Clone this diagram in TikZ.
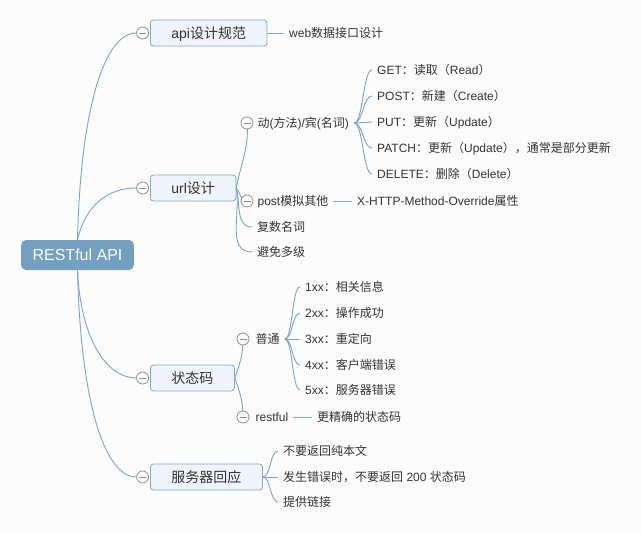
\documentclass[tikz,border=0pt]{standalone}
\usepackage{fontspec}
\setmainfont{Liberation Sans}
\newfontfamily\cjk{Noto Sans CJK SC}
\usepackage{tikz}
\usetikzlibrary{positioning}
\newcommand{\zh}[1]{{\cjk #1}}
\definecolor{linkblue}{HTML}{7BA4C7}
\definecolor{rootblue}{HTML}{73A0C1}
\definecolor{topicfill}{HTML}{EEF4F9}
\definecolor{topicborder}{HTML}{7FA8CB}
\definecolor{foldgray}{HTML}{8E8E8E}
\definecolor{inkgray}{HTML}{333333}
\definecolor{paper}{HTML}{FCFCFC}
\pgfdeclarelayer{bg}
\pgfsetlayers{bg,main}

\begin{document}
\begin{tikzpicture}[
x=1pt, y=-1pt,
central/.style={rectangle, rounded corners=5pt, fill=rootblue, text=white, font=\fontsize{16}{18}\selectfont, inner xsep=11.5pt, minimum height=30pt, text height=13.5pt, text depth=2.5pt},
topic/.style={rectangle, rounded corners=3pt, draw=topicborder, fill=topicfill, line width=0.8pt, text=inkgray, font=\fontsize{14}{16}\selectfont, inner xsep=21pt, minimum height=26pt, text height=12pt, text depth=2pt, anchor=west},
leaf/.style={anchor=west, inner xsep=5pt, inner ysep=1pt, text=inkgray, font=\fontsize{12}{14}\selectfont, text height=10.5pt, text depth=1.5pt},
foldmark/.style={circle, draw=foldgray, fill=white, line width=0.8pt, minimum size=12pt, inner sep=0pt,
  path picture={\draw[foldgray, line width=0.8pt] ([xshift=-3.5pt]path picture bounding box.center) -- ([xshift=3.5pt]path picture bounding box.center);}},
link/.style={draw=linkblue, line width=0.9pt}
]

\node[central] (root) at (77.5,255) {RESTful API};

%first level
\node[topic] (api) at (150,33) {api\zh{设计规范}};
\node[topic] (url) at (150,188) {url\zh{设计}};
\node[topic] (code) at (150,378) {\zh{状态码}};
\node[topic] (reply) at (150,477) {\zh{服务器回应}};
\node[foldmark] (f_api) [left=1pt of api] {};
\node[foldmark] (f_url) [left=1pt of url] {};
\node[foldmark] (f_code) [left=1pt of code] {};
\node[foldmark] (f_reply) [left=1pt of reply] {};

%api
\node[leaf] (web) at (284,33) {web\zh{数据接口设计}};

%url
\node[foldmark] (f_verb) at (247,123) {};
\node[leaf] (verb) [right=-1pt of f_verb] {\zh{动}(\zh{方法})/\zh{宾}(\zh{名词})};
\node[leaf] (get) at (372,70) {GET\zh{：读取（}Read\zh{）}};
\node[leaf] (create) at (372,96) {POST\zh{：新建（}Create\zh{）}};
\node[leaf] (put) at (372,122) {PUT\zh{：更新（}Update\zh{）}};
\node[leaf] (patch) at (372,148) {PATCH\zh{：更新（}Update\zh{），通常是部分更新}};
\node[leaf] (del) at (372,174) {DELETE\zh{：删除（}Delete\zh{）}};
\node[foldmark] (f_sim) at (247,201) {};
\node[leaf] (simpost) [right=-1pt of f_sim] {post\zh{模拟其他}};
\node[leaf] (xhttp) at (352,201) {X-HTTP-Method-Override\zh{属性}};
\node[leaf] (plural) at (252,227) {\zh{复数名词}};
\node[leaf] (nested) at (252,252) {\zh{避免多级}};

%status codes
\node[foldmark] (f_normal) at (243,339) {};
\node[leaf] (normal) [right=1pt of f_normal] {\zh{普通}};
\node[leaf] (s1) at (300,287) {1xx\zh{：相关信息}};
\node[leaf] (s2) at (300,313) {2xx\zh{：操作成功}};
\node[leaf] (s3) at (300,339) {3xx\zh{：重定向}};
\node[leaf] (s4) at (300,365) {4xx\zh{：客户端错误}};
\node[leaf] (s5) at (300,390) {5xx\zh{：服务器错误}};
\node[foldmark] (f_rest) at (243,417) {};
\node[leaf] (restful) [right=1pt of f_rest] {restful};
\node[leaf] (precise) at (312,417) {\zh{更精确的状态码}};

%server reply
\node[leaf] (plain) at (278,451) {\zh{不要返回纯本文}};
\node[leaf] (err) at (278,477) {\zh{发生错误时，不要返回} 200 \zh{状态码}};
\node[leaf] (links) at (278,502) {\zh{提供链接}};

\begin{pgfonlayer}{bg}
\fill[paper] (0,0) rectangle (641,533);

%Connections root
\draw[link] (root.north) .. controls +(3,-130) and +(-32,0) .. (f_api.west);
\draw[link] (root.north) .. controls +(8,-35) and +(-28,0) .. (f_url.west);
\draw[link] (root.south) .. controls +(3,68) and +(-30,0) .. (f_code.west);
\draw[link] (root.south) .. controls +(3,130) and +(-32,0) .. (f_reply.west);

%Connections api
\draw[link] (api.east) -- (web.west);

%Connections url
\draw[link] (url.east) to[out=80, in=-85] (f_verb.center);
\draw[link] (url.east) to[out=-50, in=180] (f_sim.center);
\draw[link] (url.east) to[out=-75, in=180] (plural.west);
\draw[link] (url.east) to[out=-80, in=180] (nested.west);
\foreach \m in {get,create,put,patch,del}
  \draw[link] (verb.east) .. controls +(9,0) and +(-9,0) .. (\m.west);
\draw[link] (simpost.east) -- (xhttp.west);

%Connections status codes
\draw[link] (code.east) to[out=70, in=-90] (f_normal.center);
\draw[link] (code.east) to[out=-70, in=90] (f_rest.center);
\foreach \m in {s1,s2,s3,s4,s5}
  \draw[link] (normal.east) .. controls +(8,0) and +(-8,0) .. (\m.west);
\draw[link] (restful.east) -- (precise.west);

%Connections server reply
\foreach \m in {plain,err,links}
  \draw[link] (reply.east) .. controls +(8,0) and +(-8,0) .. (\m.west);
\end{pgfonlayer}
\end{tikzpicture}
\end{document}
